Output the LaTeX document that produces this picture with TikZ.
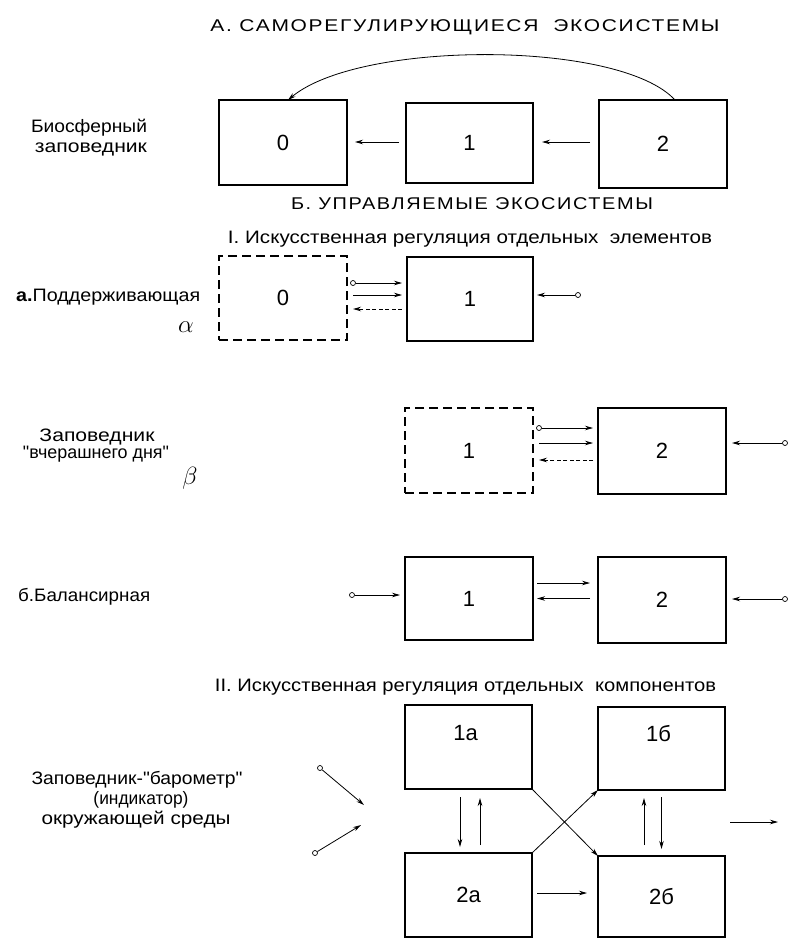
\documentclass[tikz,border=0pt]{standalone}
\usepackage{fontspec}
\usepackage{graphicx}
\setmainfont{Liberation Sans}
\newfontfamily\capsfont[LetterSpace=8]{Liberation Sans}
\newfontfamily\lcfont{Liberation Sans}
\usetikzlibrary{arrows.meta,calc}
\newcommand{\fitw}[2]{\resizebox{#1pt}{\height}{#2}}
\begin{document}
\begin{tikzpicture}[x=1pt,y=-1pt,
  box/.style={draw,line width=1.3pt,inner sep=0pt,outer sep=0pt,font=\fontsize{22}{24}\selectfont},
  dbox/.style={box,dash pattern=on 9pt off 5pt},
  ar/.style={-{Stealth[length=8pt,width=4.5pt]},line width=0.8pt},
  dar/.style={ar,dash pattern=on 4pt off 2.5pt},
  src/.style={circle,draw,line width=0.7pt,fill=white,inner sep=0pt,minimum size=5pt},
  lbl/.style={font=\fontsize{18}{20}\selectfont\lcfont,anchor=base,inner sep=0pt},
  ttl/.style={font=\fontsize{17}{19}\selectfont\capsfont,anchor=base,inner sep=0pt},
  num/.style={font=\fontsize{22}{24}\selectfont,inner sep=0pt},
  greek/.style={font=\fontsize{26}{28}\selectfont,inner sep=0pt},
]
\useasboundingbox (0,0) rectangle (790,938);

% ---------- A ----------
\node[ttl] (tA) at (465,31) {\fitw{509}{А. САМОРЕГУЛИРУЮЩИЕСЯ\ \ ЭКОСИСТЕМЫ}};
\node[lbl] (lA1) at (89,132) {\fitw{116}{Биосферный}};
\node[lbl] (lA2) at (91,152) {\fitw{112}{заповедник}};

\node[box,minimum width=128pt,minimum height=85pt] (t0) at (283,142.5) {0};
\node[box,minimum width=127pt,minimum height=80pt] (t1) at (469.5,143) {1};
\node[box,minimum width=128pt,minimum height=88pt] (t2) at (663,144) {2};

\draw[ar,shorten <=7pt,shorten >=8pt] (t1.west|-0,142) -- (t0.east|-0,142);
\draw[ar,shorten <=9pt,shorten >=9pt] (t2.west|-0,142) -- (t1.east|-0,142);
\draw[ar] ($(t2.north)+(12,0)$) .. controls (620,40) and (360,40) .. ($(t0.north)+(5,0)$);

% ---------- B ----------
\node[ttl] (tB) at (472,209) {\fitw{362}{Б. УПРАВЛЯЕМЫЕ ЭКОСИСТЕМЫ}};
\node[lbl] (tI) at (470,243) {\fitw{484}{I. Искусственная регуляция отдельных\ \ элементов}};

% a
\node[lbl,anchor=base west] (la) at (16,301) {\fitw{184}{{\bfseries а.}Поддерживающая}};
\node[greek] (alpha) at (186,327) {$\alpha$};
\node[dbox,minimum width=128pt,minimum height=84pt] (a0) at (283,298) {0};
\node[box,minimum width=126pt,minimum height=84pt] (a1) at (470,299) {1};

\node[src] (sa1) at ($(a0.east)+(6,-15)$) {};
\draw[ar,shorten >=5pt] (sa1) -- (sa1-|a1.west);
\coordinate (ma1) at ($(a0.east)+(6,-3)$);
\draw[ar,shorten >=5pt] (ma1) -- (ma1-|a1.west);
\coordinate (ma2) at ($(a0.east)+(6,11)$);
\draw[dar,shorten <=5pt] (ma2-|a1.west) -- (ma2);
\node[src] (sa2) at ($(a1.east)+(45,-4)$) {};
\draw[ar,shorten >=4pt] (sa2) -- (sa2-|a1.east);

% beta
\node[lbl] (lb1) at (97,441) {\fitw{115}{Заповедник}};
\node[lbl] (lb2) at (96,458) {\fitw{146}{"вчерашнего дня"}};
\node[greek] (beta) at (190,478) {$\beta$};
\node[dbox,minimum width=128pt,minimum height=85pt] (b1) at (469,450.5) {1};
\node[box,minimum width=128pt,minimum height=86pt] (b2) at (662,451) {2};

\node[src] (sb1) at ($(b1.east)+(6,-22.5)$) {};
\draw[ar,shorten >=5pt] (sb1) -- (sb1-|b2.west);
\coordinate (mb1) at ($(b1.east)+(6,-7.5)$);
\draw[ar,shorten >=5pt] (mb1) -- (mb1-|b2.west);
\coordinate (mb2) at ($(b1.east)+(6,9.5)$);
\draw[dar,shorten <=5pt] (mb2-|b2.west) -- (mb2);
\node[src] (sb2) at ($(b2.east)+(59,-8)$) {};
\draw[ar,shorten >=6pt] (sb2) -- (sb2-|b2.east);

% b (balance)
\node[lbl,anchor=base west] (lc) at (18,601) {\fitw{132}{б.Балансирная}};
\node[box,minimum width=128pt,minimum height=83pt] (c1) at (469,598.5) {1};
\node[box,minimum width=128pt,minimum height=86pt] (c2) at (662,600) {2};

\coordinate (mc1) at ($(c1.east)+(4,-15.5)$);
\draw[ar,shorten >=8pt] (mc1) -- (mc1-|c2.west);
\coordinate (mc2) at ($(c1.east)+(4,0)$);
\draw[ar,shorten <=8pt] (mc2-|c2.west) -- (mc2);
\node[src] (sc1) at ($(c1.west)+(-53,-3.5)$) {};
\draw[ar,shorten >=5pt] (sc1) -- (sc1-|c1.west);
\node[src] (sc2) at ($(c2.east)+(59,-1)$) {};
\draw[ar,shorten >=6pt] (sc2) -- (sc2-|c2.east);

% ---------- II ----------
\node[lbl] (tII) at (465.5,691) {\fitw{501}{II. Искусственная регуляция отдельных\ \ компонентов}};
\node[lbl] (ld1) at (137,784) {\fitw{211}{Заповедник-"барометр"}};
\node[lbl] (ld2) at (141,804) {\fitw{95}{(индикатор)}};
\node[lbl] (ld3) at (136,824) {\fitw{189}{окружающей среды}};

\node[box,minimum width=127pt,minimum height=84pt] (d1a) at (468.5,747) {};
\node[box,minimum width=127pt,minimum height=83pt] (d1b) at (661.5,748.5) {};
\node[box,minimum width=127pt,minimum height=84pt] (d2a) at (468.5,895) {2а};
\node[box,minimum width=127pt,minimum height=81pt] (d2b) at (661.5,896.5) {2б};
\node[num] (n1a) at ($(d1a.center)+(-3,-14)$) {1а};
\node[num] (n1b) at ($(d1b.center)+(-3,-15)$) {1б};

\draw[ar,shorten <=8pt,shorten >=6pt] ($(d1a.south)+(-8.5,0)$) -- ($(d2a.north)+(-8.5,0)$);
\draw[ar,shorten <=8pt,shorten >=9pt] ($(d2a.north)+(11.5,0)$) -- ($(d1a.south)+(11.5,0)$);
\draw[ar,shorten <=11pt,shorten >=8pt] ($(d2b.north)+(-17.5,0)$) -- ($(d1b.south)+(-17.5,0)$);
\draw[ar,shorten <=7pt,shorten >=7pt] (d1b.south) -- (d2b.north);

\draw[ar] (d1a.south east) -- (d2b.north west);
\draw[ar] (d2a.north east) -- (d1b.south west);

\coordinate (m2a) at ($(d2a.east)+(5,-2)$);
\draw[ar,shorten >=11pt] (m2a) -- (m2a-|d2b.west);

\coordinate (o1) at (730,822);
\coordinate (o2) at (778,822);
\draw[ar] (o1) -- (o2);

\node[src] (si1) at (320,768) {};
\coordinate (hi1) at (364,805);
\draw[ar] (si1) -- (hi1);
\node[src] (si2) at (315,853) {};
\coordinate (hi2) at (361,825);
\draw[ar] (si2) -- (hi2);

\end{tikzpicture}
\end{document}
